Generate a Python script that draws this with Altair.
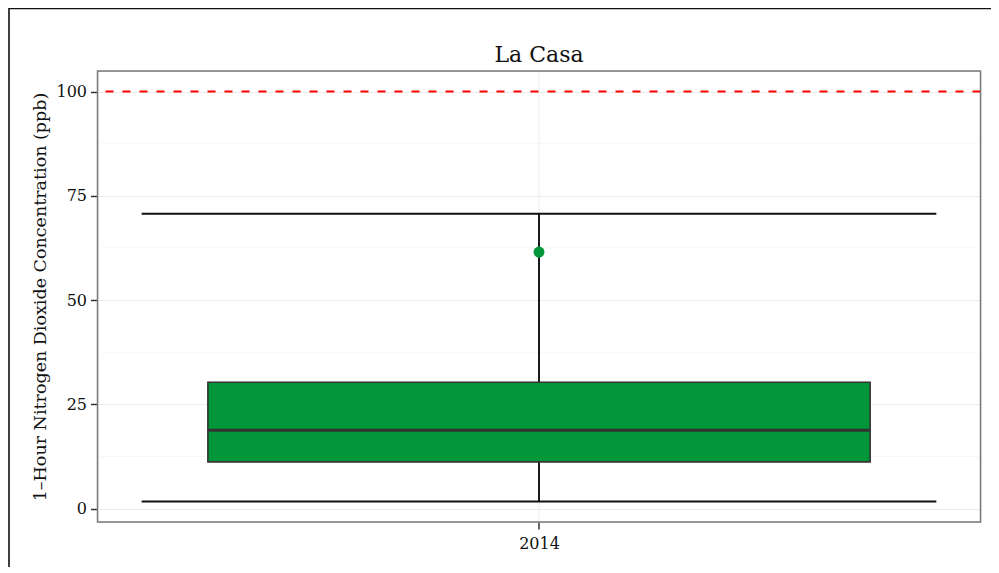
import altair as alt
import pandas as pd

# ---- data ----
title_text = ["La Casa"]
categories = ["2014"]
whisker_low = [1.7]
box_q1 = [11.2]
box_median = [18.8]
box_q3 = [30.3]
whisker_high = [70.7]
points = [61.5]
standard = [100]
y_ticks = [0, 25, 50, 75, 100]
y_minor = [12.5, 37.5, 62.5, 87.5]

W, H = 883, 451
BOX_HALF = 0.45
WHISK_HALF = 0.54
GREEN = "#009639"
FONT = "DejaVu Serif"

pos = list(range(1, len(categories) + 1))
box_df = pd.DataFrame({
    "pos": pos, "cat": categories,
    "lo": whisker_low, "q1": box_q1, "med": box_median, "q3": box_q3, "hi": whisker_high,
})
box_df["bx1"] = box_df["pos"] - BOX_HALF
box_df["bx2"] = box_df["pos"] + BOX_HALF
box_df["wx1"] = box_df["pos"] - WHISK_HALF
box_df["wx2"] = box_df["pos"] + WHISK_HALF

pt_df = pd.DataFrame({"pos": pos, "val": points})
std_df = pd.DataFrame({"val": standard})
minor_df = pd.DataFrame({"val": y_minor})
title_df = pd.DataFrame({"t": title_text})

xscale = alt.Scale(domain=[0.4, 0.4 + 1.2 * len(categories)], nice=False, zero=False)
yscale = alt.Scale(domain=[-3.22, 104.92], nice=False, zero=False)

label_expr = "datum.value == 1 ? '2014' : ''"
xaxis = alt.Axis(values=pos, labelExpr=label_expr, title=None, grid=True,
                 gridColor="#ebebeb", tickColor="#333333", tickSize=7, tickWidth=1.5, domain=False,
                 labelFont=FONT, labelFontSize=16, labelColor="#111111", labelPadding=6)
yaxis = alt.Axis(values=y_ticks, title="1–Hour Nitrogen Dioxide Concentration (ppb)",
                 grid=True, gridColor="#ebebeb", tickColor="#333333", tickSize=7, tickWidth=1.5,
                 domain=False,
                 labelFont=FONT, labelFontSize=16, labelColor="#111111", labelPadding=4,
                 titleFont=FONT, titleFontSize=17.5, titleFontWeight="normal", titleColor="#111111",
                 titlePadding=6)

base = alt.Chart(box_df)

minor = alt.Chart(minor_df).mark_rule(color="#f7f7f7", strokeWidth=1).encode(
    y=alt.Y("val:Q", scale=yscale, axis=yaxis)
)

vline = base.mark_rule(color="#1a1a1a", strokeWidth=2).encode(
    x=alt.X("pos:Q", scale=xscale, axis=xaxis),
    y=alt.Y("lo:Q", scale=yscale), y2="hi:Q",
)
whisk_hi = base.mark_rule(color="#111111", strokeWidth=2).encode(
    x=alt.X("wx1:Q", scale=xscale), x2="wx2:Q", y=alt.Y("hi:Q", scale=yscale)
)
whisk_lo = base.mark_rule(color="#111111", strokeWidth=2).encode(
    x=alt.X("wx1:Q", scale=xscale), x2="wx2:Q", y=alt.Y("lo:Q", scale=yscale)
)
box = base.mark_rect(color=GREEN, stroke="#333333", strokeWidth=1.6).encode(
    x=alt.X("bx1:Q", scale=xscale), x2="bx2:Q",
    y=alt.Y("q1:Q", scale=yscale), y2="q3:Q",
)
med = base.mark_rule(color="#333333", strokeWidth=3).encode(
    x=alt.X("bx1:Q", scale=xscale), x2="bx2:Q", y=alt.Y("med:Q", scale=yscale)
)
pts = alt.Chart(pt_df).mark_circle(color=GREEN, opacity=1, size=120).encode(
    x=alt.X("pos:Q", scale=xscale), y=alt.Y("val:Q", scale=yscale)
)
std = alt.Chart(std_df).mark_rule(color="#ff0000", strokeWidth=2, strokeDash=[8, 9]).encode(
    y=alt.Y("val:Q", scale=yscale)
)
panel = alt.Chart(std_df).mark_rect(filled=False, stroke="#7a7a7a", strokeWidth=1.5).encode(
    x=alt.value(0), x2=alt.value(W), y=alt.value(0), y2=alt.value(H)
)
frame = alt.Chart(std_df).mark_rect(filled=False, stroke="#111111", strokeWidth=1.6).encode(
    x=alt.value(-88.5), x2=alt.value(2000), y=alt.value(-62.5), y2=alt.value(2000)
)
title = alt.Chart(title_df).mark_text(font=FONT, fontSize=22, color="#111111",
                                      align="center", baseline="alphabetic").encode(
    text="t:N", x=alt.value(W / 2), y=alt.value(-9)
)

chart = alt.layer(minor, vline, whisk_hi, whisk_lo, box, med, pts, std, panel, frame, title).properties(
    width=W, height=H,
    autosize=alt.AutoSizeParams(type="none"),
    padding={"left": 89.5, "top": 63, "right": 10, "bottom": 45},
).configure_view(strokeOpacity=0).configure(background="white")

chart.save("out.html", embed_options={"renderer": "svg", "actions": False})
